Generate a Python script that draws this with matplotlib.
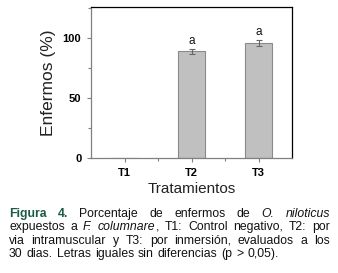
import matplotlib
matplotlib.use("Agg")
import matplotlib.pyplot as plt
from matplotlib.ticker import MultipleLocator, FixedLocator

categories = ["T1", "T2", "T3"]
values = [0.0, 88.6, 95.6]
errors = [0.0, 2.2, 2.7]
letters = ["", "a", "a"]
yticks = [0, 50, 100]

plt.rcParams['font.family'] = ['Liberation Sans', 'DejaVu Sans']

fig = plt.figure(figsize=(3.38, 2.73), dpi=100)
ax = fig.add_axes([91/338, 1-158/273, (292-91)/338, (158-6.5)/273])

x = list(range(len(categories)))
ax.bar(x, values, width=0.41, color="#c0c0c0", edgecolor="#8a8a8a", linewidth=0.8, zorder=2)
for xi, v, e in zip(x, values, errors):
    if e > 0:
        ax.errorbar(xi, v, yerr=e, color="#666666", capsize=2, elinewidth=0.8, capthick=0.8, zorder=3)
for xi, v, e, l in zip(x, values, errors, letters):
    if l:
        ax.text(xi, v + e + 1.2, l, ha="center", va="bottom", fontsize=8.5, color="#111111")

ax.set_xlim(-0.5, 2.5)
ax.set_ylim(0, 126)
ax.set_xticks(x)
ax.set_xticklabels(categories, fontweight="bold", fontsize=8)
ax.set_yticks(yticks)
ax.set_yticklabels([str(t) for t in yticks], fontweight="bold", fontsize=8)
ax.xaxis.set_minor_locator(FixedLocator([0.5, 1.5]))
ax.yaxis.set_minor_locator(MultipleLocator(25))
ax.tick_params(which="major", direction="out", length=3, width=0.8, color="#808080", pad=4)
ax.tick_params(which="minor", direction="out", length=2, width=0.8, color="#808080")
ax.spines["left"].set_color("#808080")
ax.spines["bottom"].set_color("#808080")
ax.spines["top"].set_color("black")
ax.spines["right"].set_color("black")
for s in ax.spines.values():
    s.set_linewidth(0.9)

ax.set_ylabel("Enfermos (%)", fontsize=12.5, color="#222222", labelpad=5)
ax.set_xlabel("Tratamientos", fontsize=11, color="#222222", labelpad=3)

# Caption with justified lines
green = "#1d5a48"
caption_lines = [
    [[("Figura", "b")], [("4.", "b")], [("Porcentaje", "n")], [("de", "n")], [("enfermos", "n")], [("de", "n")], [("O.", "i")], [("niloticus", "i")]],
    [[("expuestos", "n")], [("a", "n")], [("F.", "i")], [("columnare", "i"), (",", "n")], [("T1:", "n")], [("Control", "n")], [("negativo,", "n")], [("T2:", "n")], [("por", "n")]],
    [[("via", "n")], [("intramuscular", "n")], [("y", "n")], [("T3:", "n")], [("por", "n")], [("inmersión,", "n")], [("evaluados", "n")], [("a", "n")], [("los", "n")]],
    [[("30", "n")], [("dias.", "n")], [("Letras", "n")], [("iguales", "n")], [("sin", "n")], [("diferencias", "n")], [("(p", "n")], [(">", "n")], [("0,05).", "n")]],
]
justify = [True, True, True, False]
line_base = [216.8, 230.3, 243.8, 257.3]
x_left, x_right = 9, 330
fs = 8.8

fig.canvas.draw()
renderer = fig.canvas.get_renderer()

def style_kw(st):
    if st == "b":
        return dict(fontweight="bold", color=green)
    if st == "i":
        return dict(fontstyle="italic", color="#111111")
    return dict(color="#111111")

for words, just, yy in zip(caption_lines, justify, line_base):
    texts = []
    widths = []
    for word in words:
        segs = []
        wsum = 0
        for s, st in word:
            t = fig.text(0, 1 - yy/273, s, fontsize=fs, va="baseline", ha="left", **style_kw(st))
            w = t.get_window_extent(renderer).width
            segs.append((t, w))
            wsum += w
        texts.append(segs)
        widths.append(wsum)
    total = sum(widths)
    if just:
        gap = (x_right - x_left - total) / (len(words) - 1)
    else:
        gap = 4.0
    cx = x_left
    for segs, w in zip(texts, widths):
        px = cx
        for t, sw_ in segs:
            t.set_x(px / 338)
            px += sw_
        cx += w + gap

fig.savefig("out.png", dpi=100)
